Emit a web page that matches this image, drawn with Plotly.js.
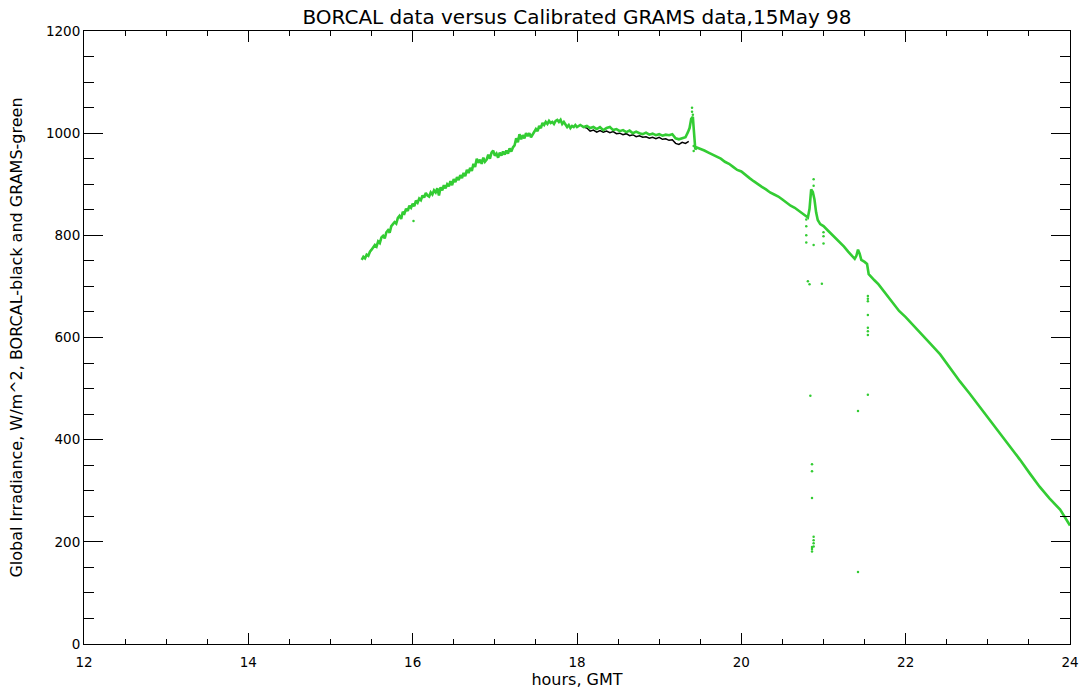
<!DOCTYPE html>
<html>
<head>
<meta charset="utf-8">
<script src="https://cdn.plot.ly/plotly-3.0.1.min.js"></script>
<style>html,body{margin:0;padding:0;background:#fff;}#chart{width:1085px;height:691px;}</style>
</head>
<body>
<div id="chart"></div>
<script>
// GRAMS (green) calibrated data, hours GMT vs W/m^2
const gramsHours = [
15.38,15.40,15.42,15.44,15.46,15.48,15.50,15.52,15.54,15.56,15.58,15.60,15.62,15.64,15.66,15.68,15.70,15.72,15.74,15.76,15.78,15.80,15.82,15.84,15.86,15.88,15.90,15.92,15.94,15.96,15.98,
16.00,16.02,16.04,16.06,16.08,16.10,16.12,16.14,16.16,16.18,16.20,16.22,16.24,16.26,16.28,16.30,16.32,16.34,16.36,16.38,16.40,16.42,16.44,16.46,16.48,16.50,16.52,16.54,16.56,16.58,16.60,16.62,16.64,16.66,16.68,16.70,16.72,16.74,16.76,16.78,16.80,16.82,16.84,16.86,16.88,16.90,16.92,16.94,16.96,16.98,
17.00,17.02,17.04,17.06,17.08,17.10,17.12,17.14,17.16,17.18,17.20,17.22,17.24,17.26,17.28,17.30,17.32,17.34,17.36,17.38,17.40,17.42,17.44,17.46,17.48,17.50,17.52,17.54,17.56,17.58,17.60,17.62,17.64,17.66,17.68,17.70,17.72,17.74,17.76,17.78,17.80,17.82,17.84,17.86,17.88,17.90,17.92,17.94,17.96,17.98,
18.00,18.04,18.08,18.12,18.16,18.20,18.24,18.28,18.32,18.36,18.40,18.44,18.48,18.52,18.56,18.60,18.64,18.68,18.72,18.76,18.80,18.84,18.88,18.92,18.96,
19.00,19.04,19.08,19.12,19.16,19.20,19.24,19.28,19.32,19.35,19.37,19.39,19.41,19.42,19.43,19.44,19.46,19.50,19.55,19.60,19.65,19.70,19.75,19.80,19.85,19.90,19.95,
20.00,20.05,20.10,20.15,20.20,20.25,20.30,20.35,20.40,20.45,20.50,20.55,20.60,20.65,20.70,20.75,20.79,20.81,20.83,20.85,20.87,20.89,20.91,20.93,20.96,
21.00,21.05,21.10,21.15,21.20,21.25,21.30,21.35,21.38,21.40,21.42,21.44,21.46,21.50,21.53,21.55,21.58,21.62,21.67,21.72,21.78,21.85,21.92,
22.00,22.09,22.20,22.30,22.42,22.54,22.66,22.78,22.90,
23.02,23.15,23.27,23.39,23.51,23.63,23.75,23.88,24.00
];
const gramsValues = [
752,758,755,762,760,768,772,776,781,778,788,785,796,799,794,806,810,805,818,822,826,823,834,838,832,846,843,852,848,858,854,
862,857,868,864,872,869,878,874,883,878,876,884,880,888,884,892,878,894,888,898,892,900,896,906,898,910,904,914,908,918,912,922,916,928,922,932,926,940,934,950,942,948,940,952,944,948,958,950,962,966,
956,960,952,962,956,964,958,966,960,970,964,972,976,990,982,998,988,996,990,1000,994,1000,992,998,1004,1008,1004,1014,1010,1020,1016,1022,1018,1024,1020,1022,1018,1024,1026,1022,1026,1018,1022,1016,1012,1016,1010,1014,1012,1016,
1012,1016,1012,1014,1010,1012,1008,1012,1006,1010,1012,1006,1008,1004,1006,1002,1005,1000,1003,1000,998,1001,997,999,996,
998,995,997,996,998,990,988,990,992,1002,1010,1028,1032,1010,985,968,972,970,966,962,958,955,950,944,940,934,928,
925,918,912,906,900,895,890,884,880,876,870,864,858,854,848,843,838,835,852,890,885,870,845,830,822,
818,810,802,795,786,778,768,758,754,760,772,764,752,748,744,724,718,712,704,694,682,668,652,
640,625,606,588,567,540,514,490,465,
440,413,387,361,334,308,285,263,232
];
// BORCAL (black) data where it separates from GRAMS
const borcalHours = [18.08,18.12,18.16,18.20,18.24,18.28,18.32,18.36,18.40,18.44,18.48,18.52,18.56,18.60,18.64,18.68,18.72,18.76,18.80,18.84,18.88,18.92,18.96,19.00,19.04,19.08,19.12,19.16,19.20,19.24,19.28,19.32,19.36];
const borcalValues = [1012,1010,1004,1006,1002,1005,1002,1004,1001,1003,999,1000,997,999,995,997,993,995,992,993,990,992,989,992,988,989,986,987,980,978,982,980,984];
// isolated GRAMS samples (dropouts / spikes)
const gramsDotHours = [16.01,19.40,19.40,19.41,19.42,19.42,20.79,20.79,20.79,20.79,20.81,20.83,20.84,20.86,20.86,20.86,20.86,20.86,20.86,20.88,20.88,20.88,20.88,20.88,20.88,20.88,20.98,21.00,21.00,21.00,21.42,21.42,21.54,21.54,21.54,21.54,21.54,21.54,21.54,21.54];
const gramsDotValues = [828,1050,1042,1036,975,965,831,818,800,786,710,704,486,352,338,286,190,186,181,210,203,197,191,781,910,897,705,784,806,798,456,141,488,619,612,605,644,681,676,671];

const xTickVals = [12,14,16,18,20,22,24];
const yTickVals = [0,200,400,600,800,1000,1200];

const green = 'rgb(51,204,51)';
const font = 'DejaVu Sans, sans-serif';

const traces = [
  {x: borcalHours, y: borcalValues, mode: 'lines', line: {color: 'black', width: 1.5}, hoverinfo: 'skip'},
  {x: gramsHours, y: gramsValues, mode: 'lines', line: {color: green, width: 2.6}, hoverinfo: 'skip'},
  {x: gramsDotHours, y: gramsDotValues, mode: 'markers', marker: {color: green, size: 2.5}, hoverinfo: 'skip'}
];

const axisCommon = {
  showline: true, linecolor: 'black', linewidth: 1, mirror: 'ticks',
  ticks: 'inside', tickcolor: 'black', tickwidth: 1,
  showgrid: false, zeroline: false,
  tickfont: {family: font, size: 13.5, color: 'black'}
};

const layout = {
  width: 1085, height: 691,
  margin: {l: 84, r: 15, t: 31, b: 47},
  paper_bgcolor: 'white', plot_bgcolor: 'white',
  showlegend: false,
  font: {family: font, color: 'black'},
  title: {text: 'BORCAL data versus Calibrated GRAMS data,15May 98', font: {family: font, size: 20, color: 'black'},
          x: 0.5, xref: 'paper', xanchor: 'center', y: 0.975, yref: 'container', yanchor: 'middle'},
  xaxis: Object.assign({}, axisCommon, {
    range: [12, 24], tickvals: xTickVals, ticktext: xTickVals.map(String), ticklen: 11,
    ticklabelstandoff: 6,
    minor: {dtick: 0.5, tick0: 12, ticks: 'inside', ticklen: 5, tickcolor: 'black', showgrid: false},
    title: {text: 'hours, GMT', font: {family: font, size: 16, color: 'black'}, standoff: 3}
  }),
  yaxis: Object.assign({}, axisCommon, {
    range: [0, 1200], tickvals: yTickVals, ticktext: yTickVals.map(String), ticklen: 19,
    minor: {dtick: 50, tick0: 0, ticks: 'inside', ticklen: 10, tickcolor: 'black', showgrid: false},
    title: {text: 'Global Irradiance, W/m^2, BORCAL-black and GRAMS-green', font: {family: font, size: 16, color: 'black'}, standoff: 19}
  })
};

Plotly.newPlot('chart', traces, layout, {staticPlot: true, displayModeBar: false});
</script>
</body>
</html>
